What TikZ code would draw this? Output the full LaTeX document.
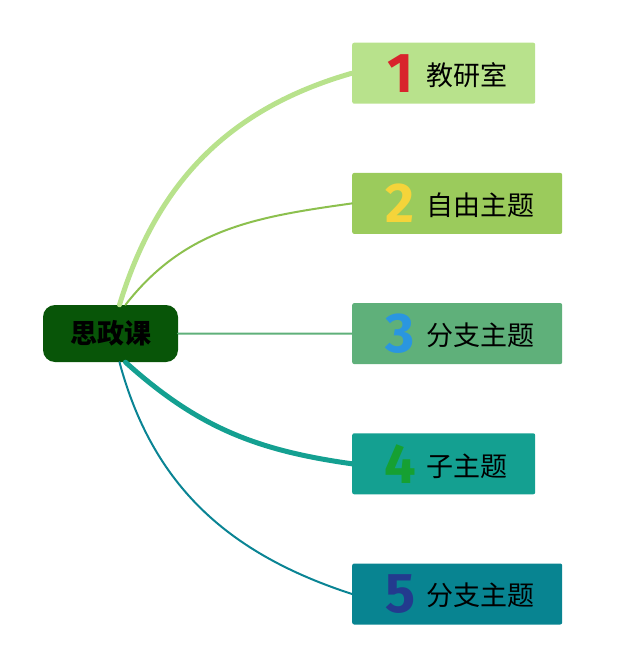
\documentclass[tikz,border=0pt]{standalone}
\usepackage{fontspec}
\setmainfont{Noto Sans CJK SC}
\newfontfamily\numfont{Fira Sans}
\definecolor{rootgreen}{HTML}{085508}
\definecolor{boxA}{HTML}{B8E28C}
\definecolor{boxB}{HTML}{9BCB5C}
\definecolor{boxC}{HTML}{5FB07A}
\definecolor{boxD}{HTML}{14A091}
\definecolor{boxE}{HTML}{088491}
\definecolor{lineB}{HTML}{8CC04E}
\definecolor{lineE}{HTML}{0A8494}
\definecolor{numA}{HTML}{D8242C}
\definecolor{numB}{HTML}{F5D43A}
\definecolor{numC}{HTML}{2A96E0}
\definecolor{numD}{HTML}{16A032}
\definecolor{numE}{HTML}{233A8E}
\begin{document}
\begin{tikzpicture}[x=1pt, y=-1pt,
    root/.style={fill=rootgreen, rounded corners=12pt, minimum width=135pt, minimum height=57pt, inner sep=0pt, font={\fontsize{27}{27}\selectfont\bfseries}},
    topic/.style={anchor=west, inner sep=0pt, rounded corners=2pt, minimum height=61pt, font={\fontsize{27}{27}\selectfont}},
    branch/.style={line cap=round}]
  \useasboundingbox (0,0) rectangle (640,668);
  % central topic
  \node[root] (c) at (110.5,333.5) {思政课};
  % topic boxes
  \foreach \txt/\fc/\nc [count=\n] in {教研室/boxA/numA,自由主题/boxB/numB,分支主题/boxC/numC,子主题/boxD/numD,分支主题/boxE/numE} {
    \node[topic, fill=\fc] (b\n) at (352,{-57+\n*130.2}) {\hspace*{35pt}\makebox[26pt]{\raisebox{-7pt}{\numfont\bfseries\fontsize{56}{56}\selectfont\color{\nc}\n}}\hspace{13pt}\txt\hspace*{28pt}};
  }
  % branches
  \draw[branch, boxA, line width=5pt] ([xshift=9pt]c.north) to[out=73, in=196] (b1.west);
  \draw[branch, lineB, line width=2pt] ([xshift=15pt]c.north) to[out=52, in=188] (b2.west);
  \draw[branch, boxC, line width=2pt] (c.east) -- (b3.west);
  \draw[branch, boxD, line width=5pt] ([xshift=15pt]c.south) to[out=-42, in=172] (b4.west);
  \draw[branch, lineE, line width=2pt] ([xshift=9pt]c.south) to[out=-75, in=162] (b5.west);
\end{tikzpicture}
\end{document}
